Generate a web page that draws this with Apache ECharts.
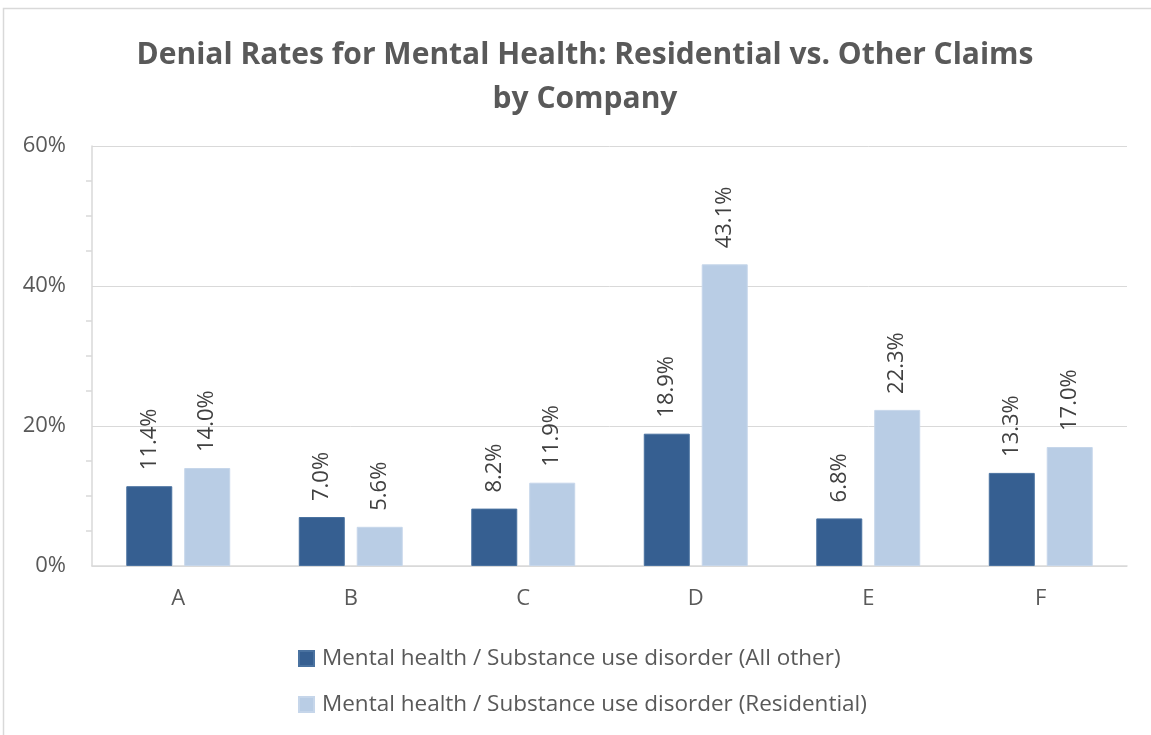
<!DOCTYPE html>
<html>
<head>
<meta charset="utf-8">
<title>Denial Rates for Mental Health</title>
<script src="https://cdn.jsdelivr.net/npm/echarts@6/dist/echarts.min.js"></script>
<style>
  html, body { margin: 0; padding: 0; background: #ffffff; }
  #chart { width: 1151px; height: 735px; }
</style>
</head>
<body>
<div id="chart"></div>
<script>
// Companies on the category axis
const companies = ['A', 'B', 'C', 'D', 'E', 'F'];

// Denial rates (%) by claim type
const allOtherRates = [11.4, 7.0, 8.2, 18.9, 6.8, 13.3];
const residentialRates = [14.0, 5.6, 11.9, 43.1, 22.3, 17.0];

const seriesNames = [
  'Mental health / Substance use disorder (All other)',
  'Mental health / Substance use disorder (Residential)'
];

// Value axis range and tick labels
const yMin = 0;
const yMax = 60;
const yInterval = 20;

const font = '"Open Sans", "Noto Sans", sans-serif';

const chart = echarts.init(document.getElementById('chart'), null, { renderer: 'canvas' });

const labelStyle = {
  show: true,
  position: 'top',
  rotate: 90,
  align: 'left',
  verticalAlign: 'middle',
  distance: 16,
  fontFamily: font,
  fontSize: 22,
  color: '#404040',
  formatter: p => p.value.toFixed(1) + '%'
};

chart.setOption({
  animation: false,
  backgroundColor: '#ffffff',
  graphic: [{
    type: 'rect',
    silent: true,
    shape: { x: 3.5, y: 8.5, width: 1160, height: 740 },
    style: { fill: 'none', stroke: '#d9d9d9', lineWidth: 1.5 }
  }],
  title: {
    text: 'Denial Rates for Mental Health: Residential vs. Other Claims\nby Company',
    left: 580,
    top: 28,
    textAlign: 'center',
    textStyle: {
      fontFamily: font,
      fontSize: 30,
      fontWeight: 'bold',
      color: '#595959',
      lineHeight: 44
    }
  },
  legend: {
    orient: 'vertical',
    left: 293,
    top: 642,
    itemWidth: 15,
    itemHeight: 15,
    itemGap: 23,
    icon: 'rect',
    textStyle: { fontFamily: font, fontSize: 22.5, color: '#595959', padding: [0, 0, 0, 3] },
    data: seriesNames
  },
  grid: { left: 92, right: 24, top: 146, bottom: 169, containLabel: false },
  xAxis: {
    type: 'category',
    data: companies,
    axisLine: { lineStyle: { color: '#d9d9d9', width: 1.5 } },
    axisTick: { show: false },
    axisLabel: { fontFamily: font, fontSize: 22, color: '#595959', margin: 22 }
  },
  yAxis: {
    type: 'value',
    min: yMin,
    max: yMax,
    interval: yInterval,
    axisLine: { show: true, lineStyle: { color: '#d9d9d9', width: 1.5 } },
    axisTick: { show: false },
    minorTick: { show: true, splitNumber: 4, length: 6, lineStyle: { color: '#d9d9d9', width: 1.5 } },
    splitLine: { lineStyle: { color: '#d9d9d9', width: 1 } },
    axisLabel: {
      fontFamily: font, fontSize: 22, color: '#595959', margin: 26,
      formatter: v => v + '%'
    }
  },
  series: [
    {
      name: seriesNames[0],
      type: 'bar',
      data: allOtherRates,
      barWidth: 46,
      barGap: '26%',
      itemStyle: { color: '#365f91', borderColor: '#4a72a0', borderWidth: 1 },
      label: labelStyle
    },
    {
      name: seriesNames[1],
      type: 'bar',
      data: residentialRates,
      barWidth: 46,
      itemStyle: { color: '#b9cde5', borderColor: '#c6d6ea', borderWidth: 1 },
      label: labelStyle
    }
  ]
});
</script>
</body>
</html>
